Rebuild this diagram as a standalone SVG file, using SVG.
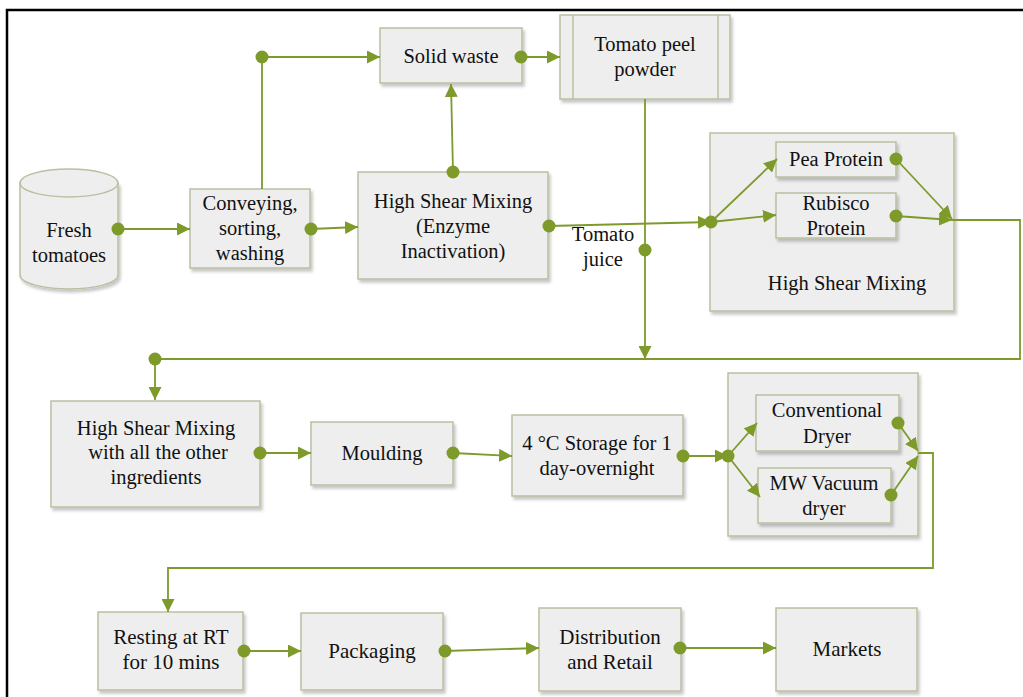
<svg xmlns="http://www.w3.org/2000/svg" width="1023" height="697" viewBox="0 0 1023 697">
  <style>
    .box { fill: #eeeeee; stroke: #b9c0a0; stroke-width: 1.5; filter: url(#shadow); }
    .grp { fill: #eeeeee; stroke: #b9c0a0; stroke-width: 1.5; filter: url(#shadow); }
    text { font-family: 'Liberation Serif', Tinos, 'Times New Roman', 'DejaVu Serif', serif; fill: #111; text-anchor: middle; }
    .t { font-size: 20.5px; }
    .tb { font-size: 21px; }
    .c { fill: none; stroke: #7d9a2a; stroke-width: 1.8; }
    .arr { marker-end: url(#arrow); }
    .dot { fill: #7d9a2a; }
  </style>
  <defs>
    <filter id="shadow" x="-10%" y="-10%" width="130%" height="130%">
      <feDropShadow dx="2" dy="3" stdDeviation="1.8" flood-color="#000" flood-opacity="0.22"/>
    </filter>
    <marker id="arrow" viewBox="0 0 12 12" refX="12" refY="6" markerWidth="13" markerHeight="13" markerUnits="userSpaceOnUse" orient="auto">
      <path d="M0,0 L12,6 L0,12 Z" fill="#7d9a2a"/>
    </marker>
  </defs>

  <!-- outer frame -->
  <path d="M7,697 V10 H1023" fill="none" stroke="#000" stroke-width="2.5"/>

  <!-- group containers -->
  <g id="hsm-group">
    <rect class="grp" x="710" y="133" width="244" height="178"/>
    <text class="t" x="847" y="290" font-family="Liberation Serif, serif">High Shear Mixing</text>
  </g>
  <g id="dryer-group">
    <rect class="grp" x="728" y="373" width="190" height="163"/>
  </g>

  <!-- process steps -->
  <g id="fresh-tomatoes">
    <path d="M20,183 V275 A49,14 0 0 0 118,275 V183 Z" fill="#eeeeee" stroke="#b9c0a0" stroke-width="1.5" filter="url(#shadow)"/>
    <ellipse cx="69" cy="183" rx="49" ry="14" fill="#eeeeee" stroke="#b9c0a0" stroke-width="1.5"/>
    <text class="t" x="69" y="237">Fresh</text>
    <text class="t" x="69" y="262">tomatoes</text>
  </g>
  <g id="conveying">
    <rect class="box" x="190" y="189" width="120" height="79"/>
    <text class="t" x="250" y="210">Conveying,</text>
    <text class="t" x="250" y="235">sorting,</text>
    <text class="t" x="250" y="260">washing</text>
  </g>
  <g id="hsm-enzyme">
    <rect class="box" x="358" y="172" width="190" height="107"/>
    <text class="t" x="453" y="208">High Shear Mixing</text>
    <text class="t" x="453" y="233">(Enzyme</text>
    <text class="t" x="453" y="258">Inactivation)</text>
  </g>
  <g id="solid-waste">
    <rect class="box" x="380" y="28" width="142" height="55"/>
    <text class="t" x="451" y="63">Solid waste</text>
  </g>
  <g id="tomato-peel-powder">
    <rect class="box" x="560" y="15" width="170" height="84"/>
    <line x1="573" y1="15" x2="573" y2="99" stroke="#b9c0a0" stroke-width="1.5"/>
    <line x1="718" y1="15" x2="718" y2="99" stroke="#b9c0a0" stroke-width="1.5"/>
    <text class="t" x="645" y="51">Tomato peel</text>
    <text class="t" x="645" y="76">powder</text>
  </g>
  <g id="tomato-juice-label">
    <text class="t" x="603" y="241">Tomato</text>
    <text class="t" x="603" y="266">juice</text>
  </g>
  <g id="pea-protein">
    <rect class="box" x="776" y="142" width="120" height="35"/>
    <text class="t" x="836" y="166">Pea Protein</text>
  </g>
  <g id="rubisco-protein">
    <rect class="box" x="776" y="193" width="120" height="45"/>
    <text class="t" x="836" y="210">Rubisco</text>
    <text class="t" x="836" y="235">Protein</text>
  </g>
  <g id="hsm-all">
    <rect class="box" x="51" y="401" width="209" height="106"/>
    <text class="t" x="156" y="435">High Shear Mixing</text>
    <text class="t" x="158" y="459">with all the other</text>
    <text class="t" x="156" y="484">ingredients</text>
  </g>
  <g id="moulding">
    <rect class="box" x="311" y="422" width="142" height="63"/>
    <text class="t" x="382" y="460">Moulding</text>
  </g>
  <g id="storage">
    <rect class="box" x="512" y="415" width="171" height="81"/>
    <text class="t" x="597" y="450">4 °C Storage for 1</text>
    <text class="t" x="597" y="475">day-overnight</text>
  </g>
  <g id="conventional-dryer">
    <rect class="box" x="756" y="395" width="143" height="56"/>
    <text class="t" x="827" y="417">Conventional</text>
    <text class="t" x="827" y="443">Dryer</text>
  </g>
  <g id="mw-vacuum-dryer">
    <rect class="box" x="758" y="468" width="133" height="55"/>
    <text class="t" x="824" y="490">MW Vacuum</text>
    <text class="t" x="824" y="515">dryer</text>
  </g>
  <g id="resting">
    <rect class="box" x="98" y="612" width="145" height="78"/>
    <text class="tb" x="171" y="644">Resting at RT</text>
    <text class="tb" x="171" y="669">for 10 mins</text>
  </g>
  <g id="packaging">
    <rect class="box" x="301" y="613" width="142" height="77"/>
    <text class="tb" x="372" y="658">Packaging</text>
  </g>
  <g id="distribution">
    <rect class="box" x="539" y="608" width="142" height="83"/>
    <text class="tb" x="610" y="644">Distribution</text>
    <text class="tb" x="610" y="669">and Retail</text>
  </g>
  <g id="markets">
    <rect class="box" x="776" y="608" width="141" height="83"/>
    <text class="tb" x="847" y="656">Markets</text>
  </g>

  <!-- connectors -->
  <g id="connectors">
    <path class="c arr" d="M118,229 L190,229"/>
    <circle class="dot" cx="118" cy="229" r="6.5"/>

    <path class="c arr" d="M262,189 V57 H380"/>
    <circle class="dot" cx="262" cy="57" r="6.5"/>

    <path class="c arr" d="M311,229 L358,227"/>
    <circle class="dot" cx="311" cy="229" r="6.5"/>

    <path class="c arr" d="M453,172 L451,84"/>
    <circle class="dot" cx="453" cy="172" r="6.5"/>

    <path class="c arr" d="M521,57 L560,57"/>
    <circle class="dot" cx="521" cy="57" r="6.5"/>

    <path class="c arr" d="M549,226 L711,222"/>
    <circle class="dot" cx="549" cy="226" r="6.5"/>
    <circle class="dot" cx="711" cy="222" r="6.5"/>

    <path class="c arr" d="M711,222 L777,159"/>
    <path class="c arr" d="M711,222 L776,215"/>

    <path class="c arr" d="M896,159 L952,219"/>
    <circle class="dot" cx="896" cy="159" r="6.5"/>
    <path class="c arr" d="M896,216 L952,220"/>
    <circle class="dot" cx="896" cy="216" r="6.5"/>

    <path class="c arr" d="M952,220 H1020 V359 H155 V400"/>
    <circle class="dot" cx="155" cy="359" r="6.5"/>

    <path class="c arr" d="M645,99 V359"/>
    <circle class="dot" cx="645" cy="250" r="6.5"/>

    <path class="c arr" d="M260,453 L311,453"/>
    <circle class="dot" cx="260" cy="453" r="6.5"/>

    <path class="c arr" d="M453,453 L512,456"/>
    <circle class="dot" cx="453" cy="453" r="6.5"/>

    <path class="c arr" d="M683,456 L728,456"/>
    <circle class="dot" cx="683" cy="456" r="6.5"/>
    <circle class="dot" cx="728" cy="456" r="6.5"/>

    <path class="c arr" d="M728,456 L757,423"/>
    <path class="c arr" d="M728,456 L760,497"/>

    <path class="c arr" d="M898,423 L918,451"/>
    <circle class="dot" cx="898" cy="423" r="6.5"/>
    <path class="c arr" d="M891,495 L918,456"/>
    <circle class="dot" cx="891" cy="495" r="6.5"/>

    <path class="c arr" d="M918,453 H933 V568 H168 V612"/>

    <path class="c arr" d="M244,651 L301,651"/>
    <circle class="dot" cx="244" cy="651" r="6.5"/>

    <path class="c arr" d="M445,651 L539,648"/>
    <circle class="dot" cx="445" cy="651" r="6.5"/>

    <path class="c arr" d="M680,648 L776,648"/>
    <circle class="dot" cx="680" cy="648" r="6.5"/>
  </g>
</svg>
